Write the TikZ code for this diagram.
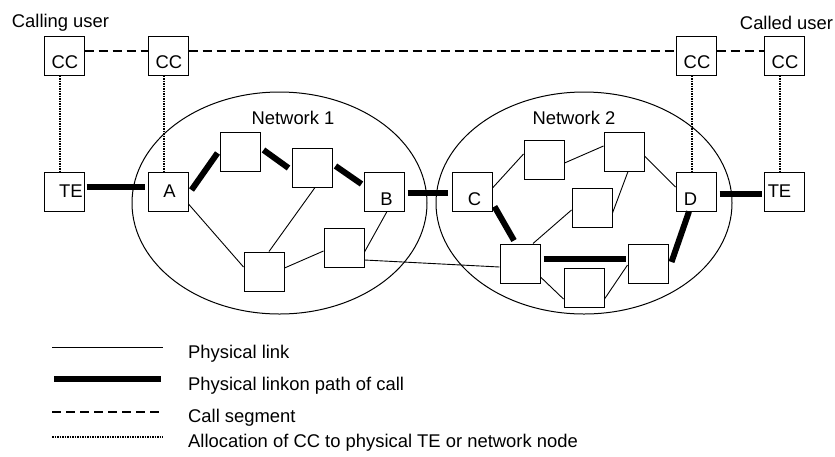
\documentclass[tikz,border=0pt]{standalone}
\usepackage{fontspec}
\setmainfont{Liberation Sans}
\usetikzlibrary{calc}
\begin{document}
\begin{tikzpicture}[x=1pt,y=-1pt,
 box/.style={draw,fill=white,line width=1pt,minimum width=40pt,minimum height=39pt,inner sep=0pt},
 txt/.style={font=\fontsize{18.4}{22}\selectfont,inner sep=0pt},
 thinlink/.style={line width=0.9pt},
 callpath/.style={line width=6pt},
 seg/.style={line width=2pt,dash pattern=on 9pt off 5pt},
 alloc/.style={line width=1.8pt,dash pattern=on 1.5pt off 1pt},
 net/.style={line width=1pt}]
\useasboundingbox (0,0) rectangle (835,456);

% networks
\draw[net] (279.5,203) ellipse [x radius=147.5, y radius=111];
\draw[net] (584,203) ellipse [x radius=148, y radius=111];
\node[txt] (net1) at (293,118) {Network 1};
\node[txt] (net2) at (574,118) {Network 2};

% user labels
\node[txt] (calling) at (60.5,23) {Calling user};
\node[txt] (called) at (786.5,23) {Called user};

% boxes
\node[box] (cc1) at (64,55.5) {};
\node[box] (cc2) at (168,55.5) {};
\node[box] (cc3) at (696,55.5) {};
\node[box] (cc4) at (784,55.5) {};
\node[box] (te1) at (64,191.5) {};
\node[box] (a) at (168,191.5) {};
\node[box] (n1a) at (240,151.5) {};
\node[box] (n1b) at (312,167.5) {};
\node[box] (b) at (384,191.5) {};
\node[box] (n1c) at (264,271.5) {};
\node[box] (n1d) at (344,247.5) {};
\node[box] (c) at (472,191.5) {};
\node[box] (n2a) at (544,159.5) {};
\node[box] (n2b) at (624,151.5) {};
\node[box] (n2c) at (592,207.5) {};
\node[box] (d) at (696,191.5) {};
\node[box] (te2) at (784,191.5) {};
\node[box] (n2ll) at (520,263.5) {};
\node[box] (n2d) at (584,287.5) {};
\node[box] (n2lr) at (648,263.5) {};

% box texts
\node[txt] (cc1t) at (65,62.5) {CC};
\node[txt] (cc2t) at (169,62.5) {CC};
\node[txt] (cc3t) at (697,62.5) {CC};
\node[txt] (cc4t) at (785,62.5) {CC};
\node[txt] (te1t) at (71,191) {TE};
\node[txt] (te2t) at (779.5,191) {TE};
\node[txt] (at) at (169.5,191) {A};
\node[txt] (bt) at (386.5,199) {B};
\node[txt] (ct) at (474.5,199) {C};
\node[txt] (dt) at (690.5,199) {D};

% call segments
\draw[seg] ($(cc1.east)+(0,-4.5)$) -- ($(cc2.west)+(0,-4.5)$);
\draw[seg] ($(cc2.east)+(0,-4.5)$) -- ($(cc3.west)+(0,-4.5)$);
\draw[seg] ($(cc3.east)+(0,-4.5)$) -- ($(cc4.west)+(0,-4.5)$);

% allocations
\draw[alloc] ($(cc1.south)+(-4,0)$) -- ($(te1.north)+(-4,0)$);
\draw[alloc] ($(cc2.south)+(-4,0)$) -- ($(a.north)+(-4,0)$);
\draw[alloc] ($(cc3.south)+(-4,0)$) -- ($(d.north)+(-4,0)$);
\draw[alloc] ($(cc4.south)+(-4,0)$) -- ($(te2.north)+(-4,0)$);

% call path
\draw[callpath] ($(te1.east)+(2,-4.5)$) -- ($(a.west)+(-3,-4.5)$);
\draw[callpath] ($(a.east)+(3,-1.5)$) -- ($(n1a.west)+(-2,1.5)$);
\draw[callpath] ($(n1a.east)+(3,-1.5)$) -- ($(n1b.west)+(-3,0.5)$);
\draw[callpath] ($(n1b.east)+(3,-1.5)$) -- ($(b.west)+(-2,-7.5)$);
\draw[callpath] ($(b.east)+(3,1.5)$) -- ($(c.west)+(-4,1.5)$);
\draw[callpath] ($(c.south east)+(2,-5)$) -- ($(n2ll.north)+(-6,-3)$);
\draw[callpath] ($(n2ll.east)+(3,-4.5)$) -- ($(n2lr.west)+(-2,-4.5)$);
\draw[callpath] ($(n2lr.east)+(3,-1.5)$) -- ($(d.south)+(-7,0)$);
\draw[callpath] ($(d.east)+(3,2.5)$) -- ($(te2.west)+(-2,2.5)$);

% physical links
\draw[thinlink] ($(a.east)+(0,12.5)$) -- ($(n1c.west)+(0,-4.5)$);
\draw[thinlink] ($(n1b.south)+(3,0)$) -- ($(n1c.north)+(5,0)$);
\draw[thinlink] ($(n1c.east)+(0,-3.5)$) -- ($(n1d.west)+(0,3.5)$);
\draw[thinlink] ($(n1d.east)+(0,4.5)$) -- ($(b.south)+(3,0)$);
\draw[thinlink] ($(n1d.east)+(0,12.5)$) -- ($(n2ll.west)+(0,3.5)$);
\draw[thinlink] ($(c.east)+(0,-3.5)$) -- ($(n2a.west)+(0,-5.5)$);
\draw[thinlink] ($(n2a.east)+(0,3.5)$) -- ($(n2b.west)+(0,-5.5)$);
\draw[thinlink] ($(n2b.east)+(0,4.5)$) -- ($(d.west)+(0,-4.5)$);
\draw[thinlink] ($(n2b.south)+(4,0)$) -- ($(n2c.east)+(0,5.5)$);
\draw[thinlink] ($(n2c.west)+(0,2.5)$) -- ($(n2ll.north)+(13,0)$);
\draw[thinlink] ($(n2ll.east)+(0,13.5)$) -- ($(n2d.west)+(0,11.5)$);
\draw[thinlink] ($(n2d.east)+(0,11.5)$) -- ($(n2lr.west)+(0,1.5)$);

% legend
\coordinate (l1a) at (52,347); \coordinate (l1b) at (163,347);
\coordinate (l2a) at (54,379); \coordinate (l2b) at (161,379);
\coordinate (l3a) at (52,412); \coordinate (l3b) at (163,412);
\coordinate (l4a) at (52,437); \coordinate (l4b) at (163,437);
\draw[thinlink] (l1a) -- (l1b);
\draw[callpath] (l2a) -- (l2b);
\draw[seg] (l3a) -- (l3b);
\draw[alloc] (l4a) -- (l4b);
\node[txt,anchor=base west] (t1) at (188,358) {Physical link};
\node[txt,anchor=base west] (t2) at (188,390) {Physical linkon path of call};
\node[txt,anchor=base west] (t3) at (188,422.5) {Call segment};
\node[txt,anchor=base west] (t4) at (188,447.5) {Allocation of CC to physical TE or network node};
\end{tikzpicture}
\end{document}
